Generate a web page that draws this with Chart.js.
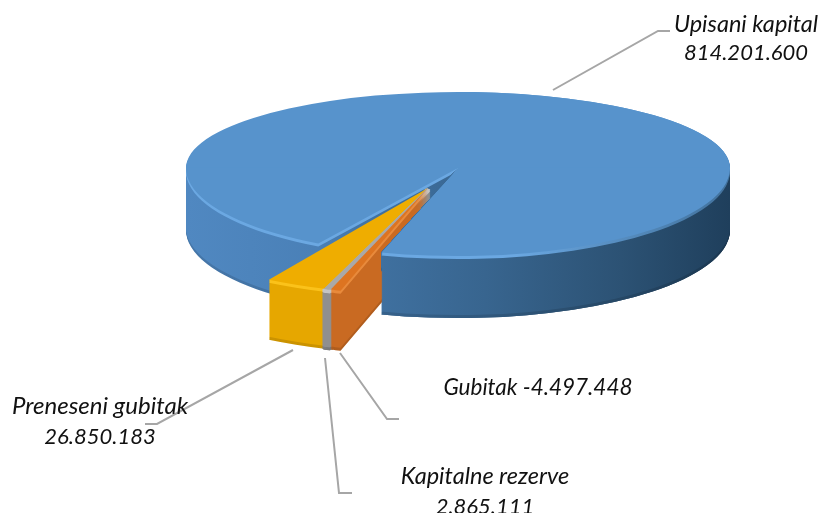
<!DOCTYPE html>
<html>
<head>
<meta charset="utf-8">
<style>
  html, body { margin: 0; background: #fff; }
  canvas { display: block; }
</style>
<script src="https://cdn.jsdelivr.net/npm/chart.js@4"></script>
</head>
<body>
<canvas id="pie" width="822" height="513"></canvas>
<script>
// ── data ─────────────────────────────────────
const sliceNames  = ['Upisani kapital', 'Gubitak', 'Kapitalne rezerve', 'Preneseni gubitak'];
const sliceValues = [814201600, 4497448, 2865111, 26850183];
const sliceSigns  = ['', '-', '', ''];

// ── look ─────────────────────────────────────
const topColors = ['#5793cc', '#dd7421', '#a9a9a9', '#efad00'];
const borders   = [0, 0, 4, 0];
const rimStops  = [
  [[0, '#6ba8e2'], [0.6, '#6ba8e2'], [1, '#41719c']],
  [[0, '#e88a3c'], [1, '#e88a3c']],
  [[0, '#c4c4c4'], [1, '#c4c4c4']],
  [[0, '#fbc21a'], [1, '#fbc21a']]
];
const sideStops = [
  [[0, '#5088c1'], [0.24, '#4a80b7'], [0.36, '#3f709f'], [0.55, '#38658f'], [0.8, '#2c5274'], [1, '#1f3f5c']],
  [[0, '#c96a22'], [1, '#c96a22']],
  [[0, '#8f8f8f'], [1, '#8f8f8f']],
  [[0, '#e6a700'], [1, '#e6a700']]
];
// where each slice lands on the page: big slice is one ellipse, small ones are pulled out
const bigView   = { cx: 458, cy: 168, rx: 272, ryUp: 76, ryDown: 88, depth: 62 };
const smallView = { cx: 428, cy: 188, rx: 310, ryUp: 107, ryDown: 107, depth: 60 };
const views = [bigView, smallView, smallView, smallView];

const leaders = [
  [[553, 90], [658, 31], [670, 31]],
  [[340, 353], [387, 419], [399, 419]],
  [[325, 358], [339, 493], [352, 493]],
  [[293, 350], [157, 424], [145, 424]]
];
const labelSpots = [
  { x: 746, y: 24, y2: 53, size: 23.5 },
  { x: 538, y: 388, size: 22.5 },
  { x: 485, y: 476, y2: 507, size: 23.5 },
  { x: 100, y: 406, y2: 437, size: 24 }
];

function fmt(n) {
  return String(n).replace(/\B(?=(\d{3})+$)/g, '.');
}

function paintArc(ctx, el, fill, border) {
  const o = el.options;
  el.options = Object.assign({}, o, { backgroundColor: fill, borderColor: fill, borderWidth: border });
  el.draw(ctx);
  el.options = o;
}

// squash the circle into the view, top and bottom half get a different height
// which gives the near side of the pie its perspective
function paintLayer(ctx, el, i, drop, fill, border) {
  const view = views[i];
  const R = el.outerRadius;
  const halves = [
    { clipY: 0, clipH: view.cy + drop + 0.5, ry: view.ryUp },
    { clipY: view.cy + drop - 0.5, clipH: 600, ry: view.ryDown }
  ];
  halves.forEach(h => {
    ctx.save();
    ctx.beginPath();
    ctx.rect(0, h.clipY, 822, h.clipH);
    ctx.clip();
    ctx.translate(view.cx, view.cy + drop);
    ctx.scale(view.rx / R, h.ry / R);
    ctx.translate(-el.x, -el.y);
    paintArc(ctx, el, fill, border);
    ctx.restore();
  });
}

function bandFill(ctx, el, stops) {
  const R = el.outerRadius;
  const g = ctx.createLinearGradient(el.x - R, 0, el.x + R, 0);
  stops.forEach(s => g.addColorStop(s[0], s[1]));
  return g;
}

function paintSide(ctx, el, i) {
  const depth = views[i].depth;
  const fill = bandFill(ctx, el, sideStops[i]);
  const rim = bandFill(ctx, el, rimStops[i]);
  for (let d = depth; d >= 1; d--) {
    paintLayer(ctx, el, i, d, d <= 3 ? rim : fill, borders[i]);
    if (d > depth - 3) paintLayer(ctx, el, i, d, 'rgba(0,0,0,0.12)', borders[i]);
  }
}

function paintSolid(ctx, el, i) {
  paintSide(ctx, el, i);
  paintLayer(ctx, el, i, 0, topColors[i], 0);
}

// page point where the right edge of the big slice meets its rim
function bigSliceEdge(el) {
  const a = el.endAngle;
  return {
    x: bigView.cx + Math.cos(a) * bigView.rx,
    y: bigView.cy + Math.sin(a) * bigView.ryDown
  };
}

const pie3d = {
  id: 'pie3d',
  beforeDatasetsDraw(chart) {
    const ctx = chart.ctx;
    const arcs = chart.getDatasetMeta(0).data;
    paintSolid(ctx, arcs[0], 0);
    paintSide(ctx, arcs[3], 3);
    paintSide(ctx, arcs[2], 2);
    paintSide(ctx, arcs[1], 1);

    // the orange wall runs behind the near part of the big slice, so paint that part again
    const edge = bigSliceEdge(arcs[0]);
    ctx.save();
    ctx.beginPath();
    ctx.moveTo(bigView.cx, bigView.cy);
    ctx.lineTo(edge.x, edge.y);
    ctx.lineTo(edge.x, 513);
    ctx.lineTo(822, 513);
    ctx.lineTo(822, 0);
    ctx.lineTo(bigView.cx, 0);
    ctx.closePath();
    ctx.clip();
    paintSolid(ctx, arcs[0], 0);
    ctx.restore();

    paintLayer(ctx, arcs[3], 3, 0, topColors[3], 0);
    paintLayer(ctx, arcs[2], 2, 0, topColors[2], 1);
    paintLayer(ctx, arcs[1], 1, 0, topColors[1], 0);
    paintLeaders(ctx);
    paintLabels(ctx);
    return false;
  }
};

function paintLeaders(ctx) {
  ctx.save();
  ctx.strokeStyle = '#a6a6a6';
  ctx.lineWidth = 2;
  leaders.forEach(pts => {
    ctx.beginPath();
    pts.forEach((p, k) => k ? ctx.lineTo(p[0], p[1]) : ctx.moveTo(p[0], p[1]));
    ctx.stroke();
  });
  ctx.restore();
}

function paintLabels(ctx) {
  ctx.save();
  ctx.fillStyle = '#111';
  ctx.textAlign = 'center';
  ctx.textBaseline = 'middle';
  sliceNames.forEach((name, i) => {
    const spot = labelSpots[i];
    const value = sliceSigns[i] + fmt(sliceValues[i]);
    ctx.font = `italic ${spot.size}px Lato`;
    if (spot.y2) {
      ctx.fillText(name, spot.x, spot.y);
      ctx.font = 'italic 22px Lato';
      ctx.fillText(value, spot.x, spot.y2);
    } else {
      ctx.fillText(name + ' ' + value, spot.x, spot.y);
    }
  });
  ctx.restore();
}

new Chart(document.getElementById('pie').getContext('2d'), {
  type: 'pie',
  data: {
    labels: sliceNames,
    datasets: [{ data: sliceValues, backgroundColor: topColors, borderWidth: 0 }]
  },
  options: {
    responsive: false,
    animation: false,
    events: [],
    rotation: 210.9,
    plugins: { legend: { display: false }, tooltip: { enabled: false } }
  },
  plugins: [pie3d]
});
</script>
</body>
</html>
